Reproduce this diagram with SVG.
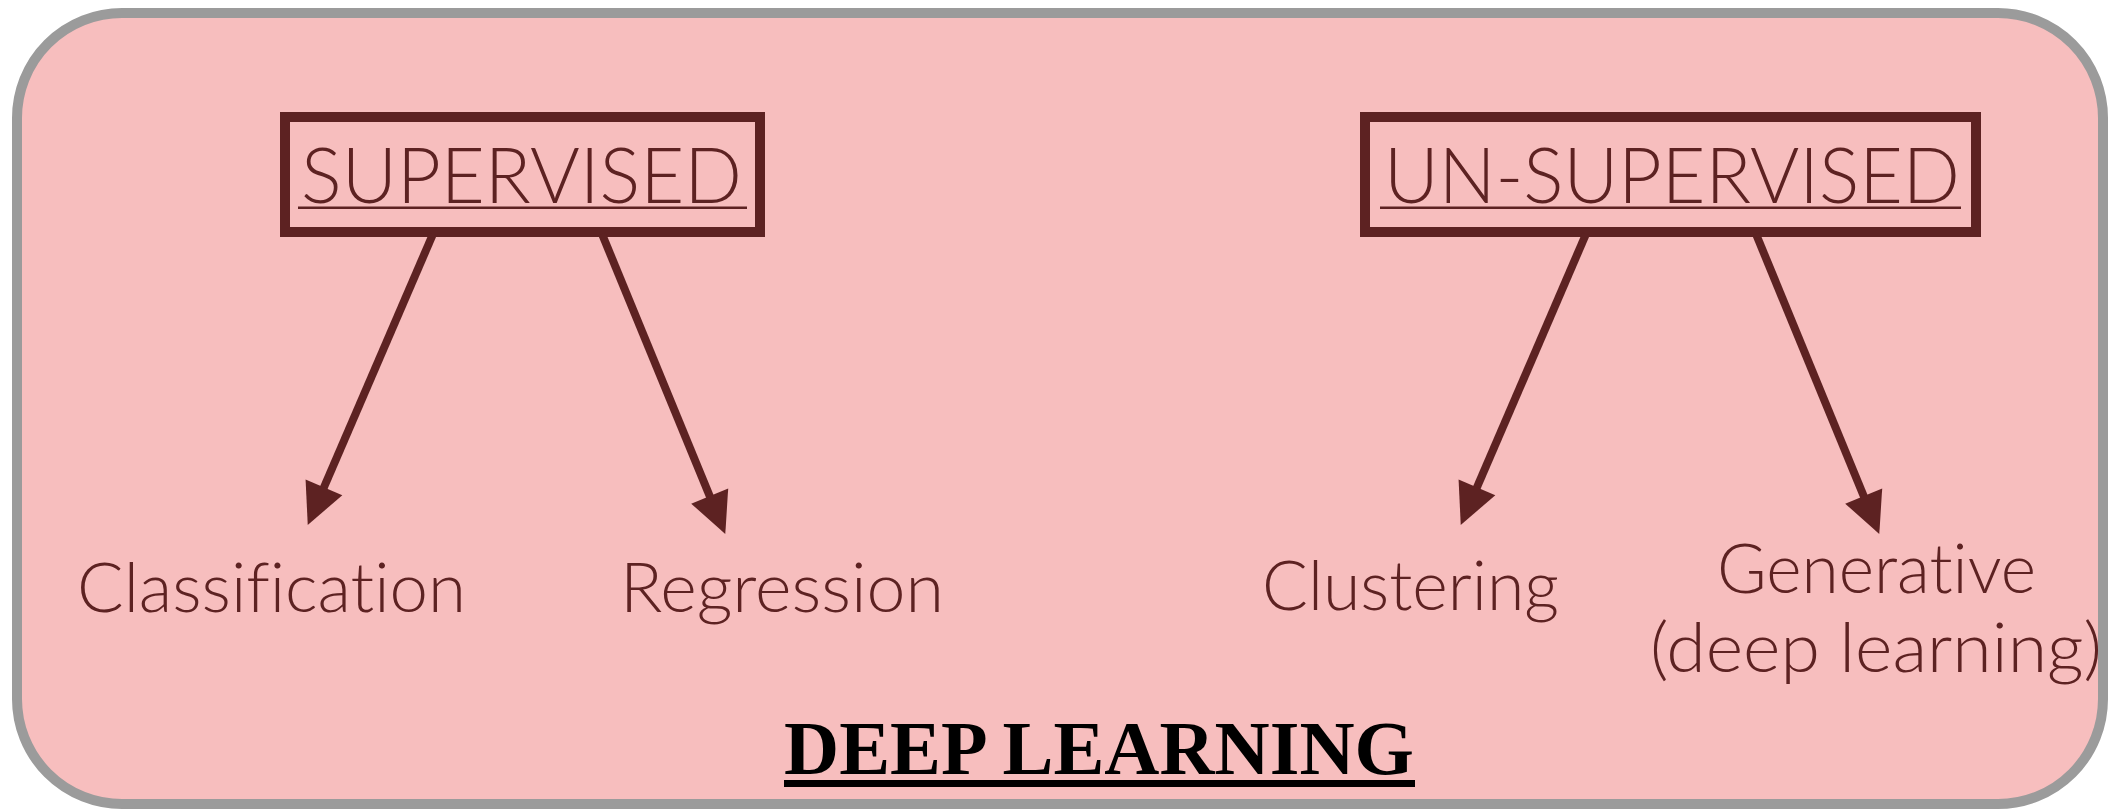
<svg xmlns="http://www.w3.org/2000/svg" width="2123" height="810" viewBox="0 0 2123 810">
<style>
.box{fill:none;stroke:#5d2222;stroke-width:10}
.ttl{font-family:"Lato","Liberation Sans",sans-serif;font-weight:300;font-size:76px;fill:#5d2222;font-variant-ligatures:none}
.lbl{font-family:"Lato","Liberation Sans",sans-serif;font-weight:300;font-size:68px;fill:#5d2222;font-variant-ligatures:none}
.ul{fill:#5d2222}
.conn line{stroke:#5d2222;stroke-width:8}
</style>
<defs>
<marker id="ah" markerUnits="userSpaceOnUse" markerWidth="42" markerHeight="42" refX="10" refY="21" orient="auto" viewBox="0 0 42 42" overflow="visible">
<path d="M0,1 L41,21 L0,41 z" fill="#5d2222"/>
</marker>
</defs>
<g id="frame">
<rect x="17" y="13" width="2086" height="791" rx="105" ry="105" fill="#f7bebe" stroke="#9b9b9b" stroke-width="10"/>
</g>
<g id="supervised">
<rect class="box" x="285" y="117" width="475" height="115"/>
<text class="ttl" x="301" y="203" textLength="441" lengthAdjust="spacingAndGlyphs">SUPERVISED</text>
<rect class="ul" x="298" y="206.5" width="449" height="2.5"/>
</g>
<g id="unsupervised">
<rect class="box" x="1365" y="117" width="611" height="115"/>
<text class="ttl" x="1384" y="203" textLength="576" lengthAdjust="spacingAndGlyphs">UN-SUPERVISED</text>
<rect class="ul" x="1380" y="206.5" width="581" height="2.5"/>
</g>
<g id="classification">
<text class="lbl" x="77" y="612" textLength="389" lengthAdjust="spacingAndGlyphs">Classification</text>
</g>
<g id="regression">
<text class="lbl" x="620" y="612" textLength="324" lengthAdjust="spacingAndGlyphs">Regression</text>
</g>
<g id="clustering">
<text class="lbl" x="1262" y="610" textLength="297" lengthAdjust="spacingAndGlyphs">Clustering</text>
</g>
<g id="generative">
<text class="lbl" x="1717" y="593" textLength="319" lengthAdjust="spacingAndGlyphs">Generative</text>
<text class="lbl" x="1650" y="672" textLength="452" lengthAdjust="spacingAndGlyphs">(deep learning)</text>
</g>
<g id="deeplearning">
<text x="784" y="774" font-family="'Liberation Serif',serif" font-weight="bold" font-size="77" fill="#000" textLength="630" lengthAdjust="spacingAndGlyphs">DEEP LEARNING</text>
<rect x="784" y="780" width="631" height="7" fill="#000"/>
</g>
<g class="conn" id="connectors">
<line x1="433" y1="234" x2="320" y2="496.5" marker-end="url(#ah)"/>
<line x1="602" y1="234" x2="713.5" y2="505.3" marker-end="url(#ah)"/>
<line x1="1586" y1="234" x2="1473" y2="496.5" marker-end="url(#ah)"/>
<line x1="1756" y1="234" x2="1867.5" y2="505.3" marker-end="url(#ah)"/>
</g>
</svg>
